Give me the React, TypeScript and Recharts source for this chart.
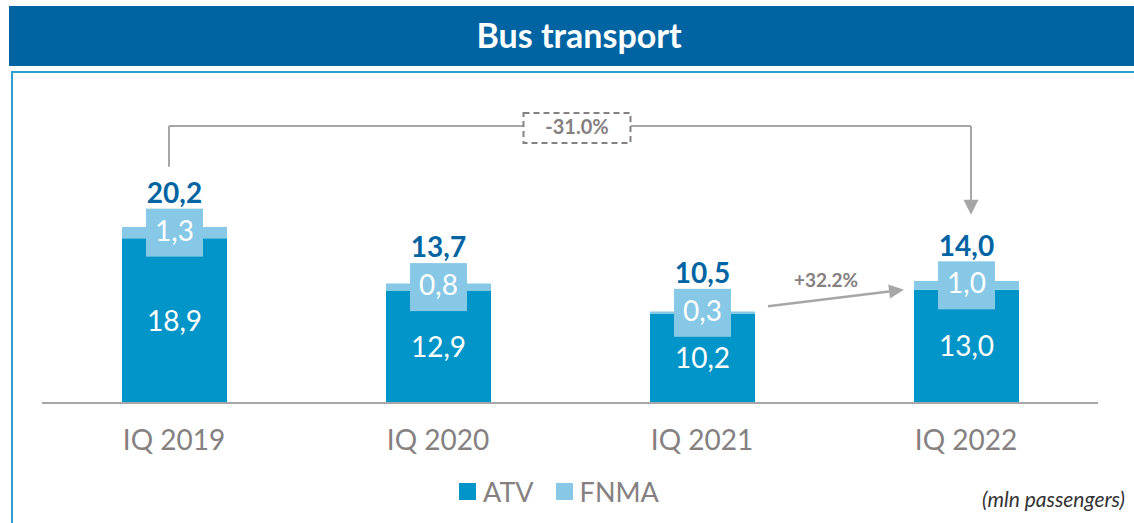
import React from 'react';
import { BarChart, Bar, XAxis, YAxis, LabelList, ReferenceLine } from 'recharts';

const quarters = ['IQ 2019', 'IQ 2020', 'IQ 2021', 'IQ 2022'];
const atvValues = [18.9, 12.9, 10.2, 13.0];
const fnmaValues = [1.3, 0.8, 0.3, 1.0];
const totalValues = [20.2, 13.7, 10.5, 14.0];
const changeLabels = ['-31.0%', '+32.2%'];
const seriesNames = ['ATV', 'FNMA'];

const data = quarters.map((q, i) => ({
  quarter: q,
  atv: atvValues[i],
  fnma: fnmaValues[i],
  total: totalValues[i],
}));

const FONT = 'Lato, "Open Sans", sans-serif';
const DARK = '#0095C8';
const LIGHT = '#86C8E6';
const NAVY = '#0064A2';
const LINE_GRAY = '#A6A6A6';
const TEXT_GRAY = '#858181';

const fmt = (v: number) => v.toFixed(1).replace('.', ',');

// FNMA value sits in a light box centred on its thin segment, the total goes above it
const FnmaLabel = (props: any) => {
  const { x, y, width, height, index } = props;
  const cx = x + width / 2;
  const cy = y + height / 2;
  return (
    <g>
      <rect x={cx - 28.5} y={cy - 24} width={57} height={48} fill={LIGHT} />
      <text x={cx} y={cy + 1} textAnchor="middle" dominantBaseline="middle" fill="#fff" fontSize={28} fontFamily={FONT}>
        {fmt(fnmaValues[index])}
      </text>
      <text x={cx} y={cy - 37} textAnchor="middle" dominantBaseline="middle" fill={NAVY} fontSize={28} fontWeight={700} fontFamily={FONT}>
        {fmt(totalValues[index])}
      </text>
    </g>
  );
};

const BracketTop = (p: any) => {
  const x1 = p.x1 - 5;
  const x2 = p.x2 + 5;
  const y = p.y1;
  const cx = (x1 + x2) / 2 + 7;
  const bw = 107;
  return (
    <g>
      <line x1={x1} y1={y} x2={cx - bw / 2} y2={y} stroke={LINE_GRAY} strokeWidth={2} />
      <line x1={cx + bw / 2} y1={y} x2={x2} y2={y} stroke={LINE_GRAY} strokeWidth={2} />
      <rect x={cx - bw / 2} y={y - 13} width={bw} height={30} fill="#fff" stroke={TEXT_GRAY} strokeWidth={2} strokeDasharray="6 4" />
      <text x={cx} y={y + 3} textAnchor="middle" dominantBaseline="middle" fill={TEXT_GRAY} fontSize={20} fontWeight={700} fontFamily={FONT}>
        {changeLabels[0]}
      </text>
    </g>
  );
};

const LeftLeg = (p: any) => (
  <line x1={p.x1 - 5} y1={p.y1} x2={p.x2 - 5} y2={p.y2} stroke={LINE_GRAY} strokeWidth={2} />
);

const RightLeg = (p: any) => {
  const x = p.x1 + 5;
  const top = Math.min(p.y1, p.y2);
  const tip = Math.max(p.y1, p.y2);
  return (
    <g>
      <line x1={x} y1={top} x2={x} y2={tip - 14} stroke={LINE_GRAY} strokeWidth={2} />
      <polygon points={`${x - 7.5},${tip - 15} ${x + 7.5},${tip - 15} ${x},${tip}`} fill={LINE_GRAY} />
    </g>
  );
};

const GrowthArrow = (p: any) => {
  const sx = p.x1 + 66;
  const ex = p.x2 - 62;
  const sy = p.y1;
  const ey = p.y2;
  const len = Math.hypot(ex - sx, ey - sy);
  const ux = (ex - sx) / len;
  const uy = (ey - sy) / len;
  const bx = ex - ux * 15;
  const by = ey - uy * 15;
  return (
    <g>
      <line x1={sx} y1={sy} x2={bx} y2={by} stroke={LINE_GRAY} strokeWidth={2.5} />
      <polygon
        points={`${ex},${ey} ${bx - uy * 7},${by + ux * 7} ${bx + uy * 7},${by - ux * 7}`}
        fill={LINE_GRAY}
      />
      <text x={(sx + ex) / 2 - 10} y={(sy + ey) / 2 - 16} textAnchor="middle" dominantBaseline="middle" fill={TEXT_GRAY} fontSize={19} fontWeight={700} fontFamily={FONT}>
        {changeLabels[1]}
      </text>
    </g>
  );
};

export default function App() {
  const legendColors = [DARK, LIGHT];
  return (
    <div style={{ position: 'absolute', left: 0, top: 0, width: 1134, height: 523, background: '#fff', overflow: 'hidden', fontFamily: FONT }}>
      <div
        style={{
          position: 'absolute', left: 9, top: 6, width: 1140, height: 60, background: NAVY,
          color: '#fff', fontWeight: 700, fontSize: 34, lineHeight: '58px', textAlign: 'center',
        }}
      >
        Bus transport
      </div>
      <div
        style={{
          position: 'absolute', left: 11, top: 71, width: 1140, height: 470,
          borderTop: '2px solid #2E9DD0', borderLeft: '2px solid #2E9DD0',
        }}
      />
      <div style={{ position: 'absolute', left: 0, top: 0 }}>
        <BarChart width={1134} height={523} data={data} margin={{ top: 98, right: 36, bottom: 90, left: 42 }}>
          <XAxis
            dataKey="quarter"
            height={30}
            axisLine={{ stroke: LINE_GRAY, strokeWidth: 2 }}
            tickLine={false}
            tickMargin={21}
            tick={{ fill: TEXT_GRAY, fontSize: 28, fontFamily: FONT }}
          />
          <YAxis hide domain={[0, 35]} />
          <Bar dataKey="atv" name={seriesNames[0]} stackId="s" fill={DARK} barSize={105} isAnimationActive={false}>
            <LabelList dataKey="atv" position="center" fill="#fff" fontSize={28} fontFamily={FONT} formatter={(v: any) => fmt(Number(v))} />
          </Bar>
          <Bar dataKey="fnma" name={seriesNames[1]} stackId="s" fill={LIGHT} barSize={105} isAnimationActive={false}>
            <LabelList dataKey="fnma" content={FnmaLabel} />
          </Bar>
          <ReferenceLine segment={[{ x: 'IQ 2019', y: 31.8 }, { x: 'IQ 2022', y: 31.8 }]} shape={BracketTop} />
          <ReferenceLine segment={[{ x: 'IQ 2019', y: 27.1 }, { x: 'IQ 2019', y: 31.8 }]} shape={LeftLeg} />
          <ReferenceLine segment={[{ x: 'IQ 2022', y: 31.8 }, { x: 'IQ 2022', y: 21.6 }]} shape={RightLeg} />
          <ReferenceLine segment={[{ x: 'IQ 2021', y: 11.1 }, { x: 'IQ 2022', y: 13.0 }]} shape={GrowthArrow} />
        </BarChart>
      </div>
      <div style={{ position: 'absolute', left: 459, top: 478, display: 'flex', alignItems: 'center' }}>
        {seriesNames.map((n, i) => (
          <div key={n} style={{ display: 'flex', alignItems: 'center', marginRight: 22 }}>
            <span style={{ width: 17, height: 17, background: legendColors[i], display: 'inline-block', marginRight: 7 }} />
            <span style={{ color: TEXT_GRAY, fontSize: 27, lineHeight: '27px' }}>{n}</span>
          </div>
        ))}
      </div>
      <div style={{ position: 'absolute', right: 9, top: 486, fontStyle: 'italic', fontSize: 21, color: '#333', fontFamily: FONT }}>
        (mln passengers)
      </div>
    </div>
  );
}
